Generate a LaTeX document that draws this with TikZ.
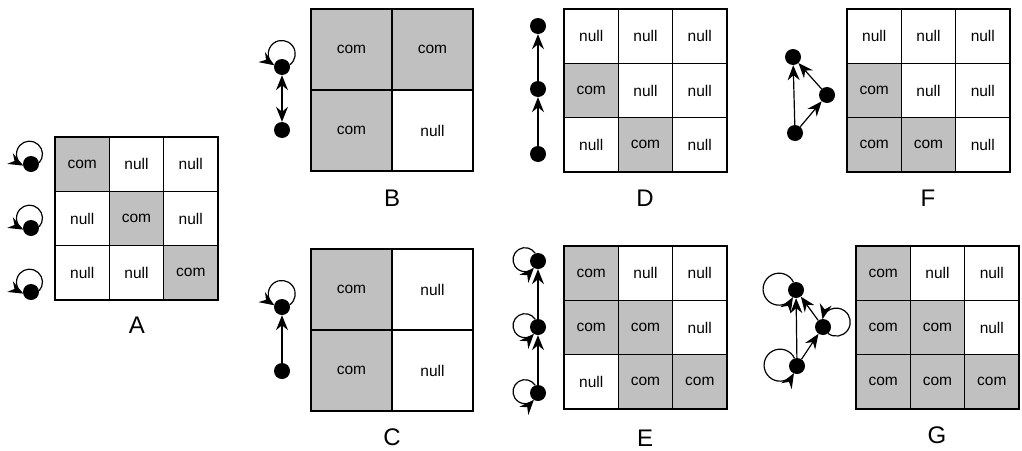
\documentclass[tikz,border=0pt]{standalone}
\usepackage{fontspec}
\setmainfont{Liberation Sans}
\usetikzlibrary{arrows.meta}
\definecolor{cgray}{RGB}{192,192,192}
\tikzset{
  cell/.style={draw, line width=1.4pt, inner sep=0pt, font=\fontsize{15.5}{15.5}\selectfont},
  small/.style={cell, minimum size=54.3pt},
  big/.style={cell, minimum size=81pt},
  com/.style={fill=cgray},
  nul/.style={fill=white},
  lbl/.style={font=\fontsize{24}{24}\selectfont, inner sep=0pt},
  dot/.style={circle, fill=black, inner sep=0pt, minimum size=16pt},
  arr/.style={-{Stealth[length=15pt,width=12pt,inset=5pt]}, line width=1.2pt},
  darr/.style={{Stealth[length=15pt,width=12pt,inset=5pt]}-{Stealth[length=15pt,width=12pt,inset=5pt]}, line width=1.2pt},
}
% #1 node, #2 direction of loop centre, #3 loop radius, #4 centre distance, #5 1=ccw, -1=cw
\newcommand\selfloop[5]{%
  \pgfmathsetmacro\lpA{acos((8*8+#4*#4-#3*#3)/(2*8*#4))}%
  \pgfmathsetmacro\lpB{acos((#4*#4+#3*#3-8*8)/(2*#4*#3))}%
  \pgfmathsetmacro\lpS{#2-#5*\lpA}%
  \pgfmathsetmacro\lpSA{#2+180+#5*\lpB}%
  \pgfmathsetmacro\lpEA{\lpSA+#5*(360-2*\lpB)}%
  \draw[arr] (#1.\lpS) arc[start angle=\lpSA, end angle=\lpEA, radius=#3pt];%
}
\begin{document}
\begin{tikzpicture}[x=1pt,y=-1pt]
\useasboundingbox (0,0) rectangle (1022,450);
% ---------- A ----------
\node[small,com] (A11) at (82.2,164.2) {com};
\node[small,nul] (A12) at (136.5,164.2) {null};
\node[small,nul] (A13) at (190.8,164.2) {null};
\node[small,nul] (A21) at (82.2,218.5) {null};
\node[small,com] (A22) at (136.5,218.5) {com};
\node[small,nul] (A23) at (190.8,218.5) {null};
\node[small,nul] (A31) at (82.2,272.8) {null};
\node[small,nul] (A32) at (136.5,272.8) {null};
\node[small,com] (A33) at (190.8,272.8) {com};
\node[lbl] (Al) at (137,325) {A};
\node[dot] (a1) at (31,164) {};
\node[dot] (a2) at (31,228) {};
\node[dot] (a3) at (31,292) {};
\selfloop{a1}{100}{13}{10}{1}
\selfloop{a2}{100}{13}{10}{1}
\selfloop{a3}{100}{13}{10}{1}
% ---------- B ----------
\node[big,com] (B11) at (351.5,49.5) {com};
\node[big,com] (B12) at (432.5,49.5) {com};
\node[big,com] (B21) at (351.5,130.5) {com};
\node[big,nul] (B22) at (432.5,130.5) {null};
\node[lbl] (Bl) at (392,198) {B};
\node[dot] (b1) at (282,67) {};
\node[dot] (b2) at (282,130) {};
\selfloop{b1}{92}{13.5}{13}{1}
\draw[darr] (b1) -- (b2);
% ---------- C ----------
\node[big,com] (C11) at (351.5,289.5) {com};
\node[big,nul] (C12) at (432.5,289.5) {null};
\node[big,com] (C21) at (351.5,370.5) {com};
\node[big,nul] (C22) at (432.5,370.5) {null};
\node[lbl] (Cl) at (392,437) {C};
\node[dot] (c1) at (282,307) {};
\node[dot] (c2) at (282,371) {};
\selfloop{c1}{92}{13.5}{13}{1}
\draw[arr] (c2) -- (c1);
% ---------- D ----------
\node[small,nul] (D11) at (591.2,36.2) {null};
\node[small,nul] (D12) at (645.5,36.2) {null};
\node[small,nul] (D13) at (699.8,36.2) {null};
\node[small,com] (D21) at (591.2,90.5) {com};
\node[small,nul] (D22) at (645.5,90.5) {null};
\node[small,nul] (D23) at (699.8,90.5) {null};
\node[small,nul] (D31) at (591.2,144.8) {null};
\node[small,com] (D32) at (645.5,144.8) {com};
\node[small,nul] (D33) at (699.8,144.8) {null};
\node[lbl] (Dl) at (645,198) {D};
\node[dot] (d1) at (538,26) {};
\node[dot] (d2) at (538,89) {};
\node[dot] (d3) at (538,154) {};
\draw[arr] (d3) -- (d2);
\draw[arr] (d2) -- (d1);
% ---------- E ----------
\node[small,com] (E11) at (591.2,273.2) {com};
\node[small,nul] (E12) at (645.5,273.2) {null};
\node[small,nul] (E13) at (699.8,273.2) {null};
\node[small,com] (E21) at (591.2,327.5) {com};
\node[small,com] (E22) at (645.5,327.5) {com};
\node[small,nul] (E23) at (699.8,327.5) {null};
\node[small,nul] (E31) at (591.2,381.8) {null};
\node[small,com] (E32) at (645.5,381.8) {com};
\node[small,com] (E33) at (699.8,381.8) {com};
\node[lbl] (El) at (645,438) {E};
\node[dot] (e1) at (538,261) {};
\node[dot] (e2) at (538,327) {};
\node[dot] (e3) at (538,393) {};
\selfloop{e1}{175}{12}{13}{1}
\selfloop{e2}{175}{12}{13}{1}
\selfloop{e3}{175}{12}{13}{1}
\draw[arr] (e3) -- (e2);
\draw[arr] (e2) -- (e1);
% ---------- F ----------
\node[small,nul] (F11) at (874.2,36.2) {null};
\node[small,nul] (F12) at (928.5,36.2) {null};
\node[small,nul] (F13) at (982.8,36.2) {null};
\node[small,com] (F21) at (874.2,90.5) {com};
\node[small,nul] (F22) at (928.5,90.5) {null};
\node[small,nul] (F23) at (982.8,90.5) {null};
\node[small,com] (F31) at (874.2,144.8) {com};
\node[small,com] (F32) at (928.5,144.8) {com};
\node[small,nul] (F33) at (982.8,144.8) {null};
\node[lbl] (Fl) at (928,198) {F};
\node[dot] (f1) at (793,57) {};
\node[dot] (f2) at (827,95) {};
\node[dot] (f3) at (795,133) {};
\draw[arr] (f3) -- (f1);
\draw[arr] (f3) -- (f2);
\draw[arr] (f2) -- (f1);
% ---------- G ----------
\node[small,com] (G11) at (883.2,273.2) {com};
\node[small,nul] (G12) at (937.5,273.2) {null};
\node[small,nul] (G13) at (991.8,273.2) {null};
\node[small,com] (G21) at (883.2,327.5) {com};
\node[small,com] (G22) at (937.5,327.5) {com};
\node[small,nul] (G23) at (991.8,327.5) {null};
\node[small,com] (G31) at (883.2,381.8) {com};
\node[small,com] (G32) at (937.5,381.8) {com};
\node[small,com] (G33) at (991.8,381.8) {com};
\node[lbl] (Gl) at (937,435) {G};
\node[dot] (g1) at (796,290) {};
\node[dot] (g2) at (823,327) {};
\node[dot] (g3) at (797,366) {};
\selfloop{g1}{178}{16}{17}{1}
\selfloop{g2}{21}{14}{14}{1}
\selfloop{g3}{178}{16}{17}{1}
\draw[arr] (g3) -- (g1);
\draw[arr] (g3) -- (g2);
\draw[arr] (g2) -- (g1);
\end{tikzpicture}
\end{document}
